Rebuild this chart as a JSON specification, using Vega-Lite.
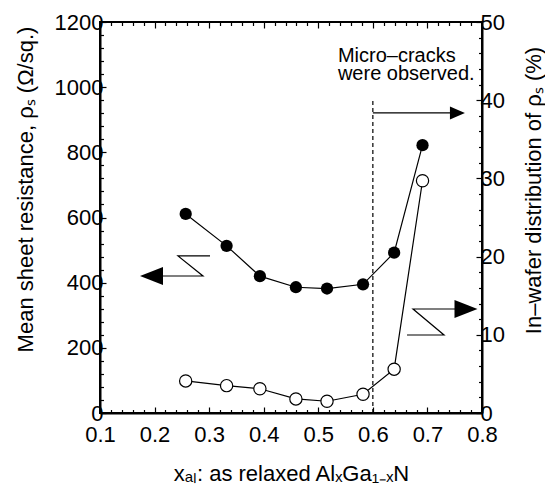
{
  "$schema": "https://vega.github.io/schema/vega-lite/v6.json",
  "width": 382,
  "height": 391,
  "autosize": {"type": "none"},
  "padding": {"left": 100, "top": 22, "right": 63, "bottom": 72},
  "background": "white",
  "config": {
    "font": "Liberation Sans",
    "view": {"stroke": "black", "strokeWidth": 2},
    "axis": {
      "labelFont": "Liberation Sans", "titleFont": "Liberation Sans",
      "labelFontSize": 22, "titleFontSize": 22,
      "labelColor": "black", "titleColor": "black", "titleFontWeight": "normal",
      "domainColor": "black", "tickColor": "black", "domainWidth": 2, "tickWidth": 1.2,
      "grid": false, "labelFlush": false, "labelOverlap": false
    }
  },
  "datasets": {
    "main": [
      {"x": 0.257, "rs": 611, "dist": 4.1},
      {"x": 0.332, "rs": 513, "dist": 3.5},
      {"x": 0.393, "rs": 420, "dist": 3.1},
      {"x": 0.459, "rs": 386, "dist": 1.8},
      {"x": 0.516, "rs": 382, "dist": 1.5},
      {"x": 0.582, "rs": 395, "dist": 2.4},
      {"x": 0.639, "rs": 492, "dist": 5.6},
      {"x": 0.691, "rs": 822, "dist": 29.7}
    ],
    "zig": [
      {"g": "L", "o": 1, "x": 0.3016, "y": 482},
      {"g": "L", "o": 2, "x": 0.2429, "y": 482},
      {"g": "L", "o": 3, "x": 0.2887, "y": 420.5},
      {"g": "L", "o": 4, "x": 0.1953, "y": 420.5},
      {"g": "R", "o": 1, "x": 0.6626, "y": 239.4},
      {"g": "R", "o": 2, "x": 0.7304, "y": 239.4},
      {"g": "R", "o": 3, "x": 0.6736, "y": 319.2},
      {"g": "R", "o": 4, "x": 0.7707, "y": 319.2}
    ],
    "heads": [
      {"dir": "left", "x": 0.1944, "y": 420.5},
      {"dir": "right", "x": 0.7707, "y": 319.2}
    ],
    "notes": [
      {"x": 0.536, "y": 1077, "t": "Micro–cracks"},
      {"x": 0.536, "y": 1022, "t": "were observed."}
    ]
  },
  "layer": [
    {
      "data": {"name": "main"},
      "mark": {"type": "line", "color": "black", "strokeWidth": 1.2, "point": {"filled": true, "color": "black", "size": 150, "opacity": 1}},
      "encoding": {
        "x": {"field": "x", "type": "quantitative", "scale": {"domain": [0.1, 0.8], "nice": false, "zero": false},
          "axis": {"orient": "bottom", "values": [0.1, 0.2, 0.3, 0.4, 0.5, 0.6, 0.7, 0.8], "format": ".1f", "tickSize": -6, "labelPadding": 17,
            "title": "xₐₗ: as relaxed AlₓGa₁₋ₓN", "titleY": 67, "titleBaseline": "alphabetic"}},
        "y": {"field": "rs", "type": "quantitative", "scale": {"domain": [0, 1200], "nice": false},
          "axis": {"orient": "left", "values": [0, 200, 400, 600, 800, 1000, 1200], "format": "d", "tickSize": -6, "labelPadding": 3,
            "title": "Mean sheet resistance, ρₛ (Ω/sq.)", "titleAngle": -90, "titleX": -68, "titleY": 167, "titleAlign": "center", "titleBaseline": "alphabetic"}}
      }
    },
    {
      "data": {"name": "main"},
      "mark": {"type": "line", "color": "black", "strokeWidth": 1.2, "point": {"filled": false, "fill": "white", "stroke": "black", "strokeWidth": 1.2, "size": 150, "opacity": 1}},
      "encoding": {
        "x": {"field": "x", "type": "quantitative", "scale": {"domain": [0.1, 0.8], "nice": false, "zero": false},
          "axis": {"orient": "top", "values": [0.1, 0.2, 0.3, 0.4, 0.5, 0.6, 0.7, 0.8], "tickSize": -6, "labels": false, "domain": false, "title": null}},
        "y": {"field": "dist", "type": "quantitative", "scale": {"domain": [0, 50], "nice": false},
          "axis": {"orient": "right", "values": [0, 10, 20, 30, 40, 50], "tickSize": -6, "labelPadding": 4,
            "title": "In–wafer distribution of ρₛ (%)", "titleAngle": -90, "titleX": 58, "titleY": 168, "titleAlign": "center", "titleBaseline": "alphabetic"}}
      }
    },
    {
      "data": {"name": "main"},
      "mark": {"type": "point", "opacity": 0},
      "encoding": {
        "x": {"field": "x", "type": "quantitative", "scale": {"domain": [0.1, 0.8], "nice": false, "zero": false},
          "axis": {"orient": "bottom", "values": [0.12, 0.14, 0.16, 0.18, 0.22, 0.24, 0.26, 0.28, 0.32, 0.34, 0.36, 0.38, 0.42, 0.44, 0.46, 0.48, 0.52, 0.54, 0.56, 0.58, 0.62, 0.64, 0.66, 0.68, 0.72, 0.74, 0.76, 0.78], "tickSize": -3.5, "labels": false, "domain": false, "title": null}},
        "y": {"field": "rs", "type": "quantitative", "scale": {"domain": [0, 1200], "nice": false},
          "axis": {"orient": "left", "values": [40, 80, 120, 160, 240, 280, 320, 360, 440, 480, 520, 560, 640, 680, 720, 760, 840, 880, 920, 960, 1040, 1080, 1120, 1160], "tickSize": -3.5, "labels": false, "domain": false, "title": null}}
      }
    },
    {
      "data": {"name": "main"},
      "mark": {"type": "point", "opacity": 0},
      "encoding": {
        "x": {"field": "x", "type": "quantitative", "scale": {"domain": [0.1, 0.8], "nice": false, "zero": false},
          "axis": {"orient": "top", "values": [0.12, 0.14, 0.16, 0.18, 0.22, 0.24, 0.26, 0.28, 0.32, 0.34, 0.36, 0.38, 0.42, 0.44, 0.46, 0.48, 0.52, 0.54, 0.56, 0.58, 0.62, 0.64, 0.66, 0.68, 0.72, 0.74, 0.76, 0.78], "tickSize": -3.5, "labels": false, "domain": false, "title": null}},
        "y": {"field": "dist", "type": "quantitative", "scale": {"domain": [0, 50], "nice": false},
          "axis": {"orient": "right", "values": [2, 4, 6, 8, 12, 14, 16, 18, 22, 24, 26, 28, 32, 34, 36, 38, 42, 44, 46, 48], "tickSize": -3.5, "labels": false, "domain": false, "title": null}}
      }
    },
    {
      "data": {"values": [{"x": 0.6, "y": 0, "y2": 967}]},
      "mark": {"type": "rule", "color": "black", "strokeWidth": 1.2, "strokeDash": [4, 3]},
      "encoding": {
        "x": {"field": "x", "type": "quantitative", "scale": {"domain": [0.1, 0.8], "nice": false, "zero": false}, "axis": null},
        "y": {"field": "y", "type": "quantitative", "scale": {"domain": [0, 1200], "nice": false}, "axis": null},
        "y2": {"field": "y2"}
      }
    },
    {
      "data": {"values": [{"x": 0.6, "x2": 0.745, "y": 921}]},
      "mark": {"type": "rule", "color": "black", "strokeWidth": 1.2},
      "encoding": {
        "x": {"field": "x", "type": "quantitative", "scale": {"domain": [0.1, 0.8], "nice": false, "zero": false}, "axis": null},
        "x2": {"field": "x2"},
        "y": {"field": "y", "type": "quantitative", "scale": {"domain": [0, 1200], "nice": false}, "axis": null}
      }
    },
    {
      "data": {"values": [{"x": 0.755, "y": 921}]},
      "mark": {"type": "point", "shape": "M 1 0 L -1 -0.87 L -1 0.87 Z", "size": 225, "filled": true, "color": "black", "opacity": 1},
      "encoding": {
        "x": {"field": "x", "type": "quantitative", "scale": {"domain": [0.1, 0.8], "nice": false, "zero": false}, "axis": null},
        "y": {"field": "y", "type": "quantitative", "scale": {"domain": [0, 1200], "nice": false}, "axis": null}
      }
    },
    {
      "data": {"name": "zig"},
      "mark": {"type": "line", "color": "black", "strokeWidth": 1.2},
      "encoding": {
        "x": {"field": "x", "type": "quantitative", "scale": {"domain": [0.1, 0.8], "nice": false, "zero": false}, "axis": null},
        "y": {"field": "y", "type": "quantitative", "scale": {"domain": [0, 1200], "nice": false}, "axis": null},
        "detail": {"field": "g"},
        "order": {"field": "o"}
      }
    },
    {
      "data": {"name": "heads"},
      "mark": {"type": "point", "size": 529, "filled": true, "color": "black", "opacity": 1},
      "encoding": {
        "x": {"field": "x", "type": "quantitative", "scale": {"domain": [0.1, 0.8], "nice": false, "zero": false}, "axis": null},
        "y": {"field": "y", "type": "quantitative", "scale": {"domain": [0, 1200], "nice": false}, "axis": null},
        "shape": {"field": "dir", "type": "nominal", "scale": {"domain": ["left", "right"], "range": ["M -1 0 L 1 -0.78 L 1 0.78 Z", "M 1 0 L -1 -0.78 L -1 0.78 Z"]}, "legend": null}
      }
    },
    {
      "data": {"name": "notes"},
      "mark": {"type": "text", "align": "left", "baseline": "alphabetic", "fontSize": 20, "font": "Liberation Sans", "color": "black"},
      "encoding": {
        "x": {"field": "x", "type": "quantitative", "scale": {"domain": [0.1, 0.8], "nice": false, "zero": false}, "axis": null},
        "y": {"field": "y", "type": "quantitative", "scale": {"domain": [0, 1200], "nice": false}, "axis": null},
        "text": {"field": "t"}
      }
    }
  ],
  "resolve": {"scale": {"x": "independent", "y": "independent"}, "axis": {"x": "independent", "y": "independent"}}
}
